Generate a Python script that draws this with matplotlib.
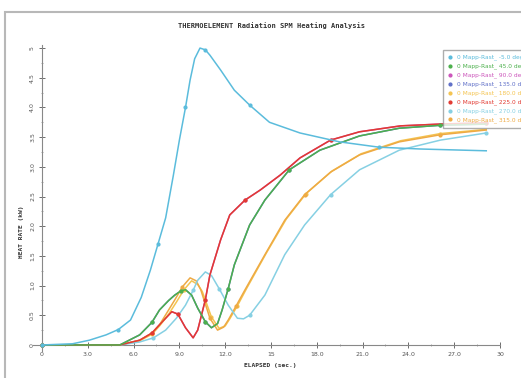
import numpy as np
import matplotlib
matplotlib.use('Agg')
import matplotlib.pyplot as plt
from matplotlib.patches import Rectangle

# series (x in sec., y in plotted units)
x_cyan = [0, 2.0, 3.1, 4.2, 5.0, 5.8, 6.5, 7.1, 7.6, 8.1, 8.6, 9.0, 9.4, 9.7, 10.0, 10.35,
          10.7, 11.0, 11.7, 12.6, 13.6, 14.9, 16.9, 19.5, 22.1, 24.8, 29.1]
y_cyan = [0, 0.02, 0.08, 0.17, 0.26, 0.42, 0.80, 1.26, 1.70, 2.14, 2.85, 3.45, 4.0, 4.46, 4.82, 5.0,
          4.97, 4.88, 4.63, 4.29, 4.04, 3.75, 3.57, 3.42, 3.33, 3.30, 3.27]

x_red = [0, 3.0, 5.1, 6.4, 7.2, 7.7, 8.1, 8.5, 8.9, 9.4, 9.9, 10.2, 10.7, 11.0, 11.7, 12.3,
         13.3, 14.3, 15.6, 16.9, 18.9, 20.8, 23.5, 26.1, 29.1]
y_red = [0, 0, 0, 0.08, 0.2, 0.34, 0.45, 0.56, 0.52, 0.29, 0.12, 0.25, 0.76, 1.18, 1.77, 2.19,
         2.44, 2.61, 2.86, 3.15, 3.45, 3.59, 3.69, 3.72, 3.74]

x_green = [0, 3.0, 5.1, 6.4, 7.2, 7.7, 8.3, 8.7, 9.1, 9.4, 9.8, 10.2, 10.7, 11.1, 11.5, 11.8,
           12.2, 12.6, 13.6, 14.6, 16.2, 18.2, 20.8, 23.4, 26.1, 29.1]
y_green = [0, 0, 0, 0.17, 0.38, 0.59, 0.75, 0.84, 0.91, 0.93, 0.84, 0.62, 0.39, 0.29, 0.36, 0.59,
           0.95, 1.35, 2.02, 2.44, 2.95, 3.28, 3.52, 3.65, 3.70, 3.72]

x_orange = [0, 3.0, 5.1, 6.4, 7.2, 7.7, 8.2, 8.7, 9.2, 9.7, 10.1, 10.4, 11.0, 11.5, 11.9, 12.2,
            12.7, 13.3, 14.6, 15.9, 17.2, 18.9, 20.8, 23.4, 26.1, 29.1]
y_orange = [0, 0, 0, 0.08, 0.2, 0.34, 0.55, 0.76, 0.98, 1.13, 1.08, 0.93, 0.45, 0.25, 0.30, 0.42,
            0.65, 0.93, 1.52, 2.10, 2.53, 2.91, 3.20, 3.42, 3.54, 3.62]

x_lcyan = [0, 3.0, 5.1, 6.4, 7.3, 8.1, 8.8, 9.4, 9.9, 10.2, 10.7, 11.1, 11.6, 12.2, 12.8, 13.2,
           13.6, 14.6, 15.9, 17.2, 18.9, 20.8, 23.4, 26.1, 29.1]
y_lcyan = [0, 0, 0, 0.05, 0.12, 0.25, 0.45, 0.67, 0.92, 1.09, 1.23, 1.17, 0.95, 0.67, 0.45, 0.44,
           0.50, 0.84, 1.52, 2.02, 2.53, 2.95, 3.28, 3.45, 3.57]

x_yellow = [0, 3.0, 5.1, 6.4, 7.2, 7.7, 8.3, 8.8, 9.3, 9.8, 10.2, 10.5, 11.1, 11.6, 12.0, 12.3,
            12.8, 13.4, 14.7, 16.0, 17.3, 19.0, 20.9, 23.5, 26.1, 29.1]
y_yellow = [0, 0, 0, 0.07, 0.18, 0.32, 0.52, 0.72, 0.93, 1.08, 1.02, 0.90, 0.47, 0.28, 0.32, 0.44,
            0.66, 0.95, 1.55, 2.12, 2.55, 2.93, 3.22, 3.44, 3.56, 3.63]

series = [
    ("0 Mapp-Rast_ -5.0 deg", x_cyan, y_cyan, "#5bbcdc"),
    ("0 Mapp-Rast_ 45.0 deg", x_green, y_green, "#4cb04c"),
    ("0 Mapp-Rast_ 90.0 deg", x_red, y_red, "#cc55bb"),
    ("0 Mapp-Rast_ 135.0 deg", x_green, y_green, "#6070c8"),
    ("0 Mapp-Rast_ 180.0 deg", x_yellow, y_yellow, "#f4c450"),
    ("0 Mapp-Rast_ 225.0 deg", x_red, y_red, "#e23a32"),
    ("0 Mapp-Rast_ 270.0 deg", x_lcyan, y_lcyan, "#86d0e3"),
    ("0 Mapp-Rast_ 315.0 deg", x_orange, y_orange, "#eeaa44"),
]
# hidden duplicates (magenta, blue) sit below the visible red / green curves
zorders = [3.5, 3.4, 2.1, 2.0, 2.2, 3.3, 3.2, 3.1]

xticks = [0, 3, 6, 9, 12, 15, 18, 21, 24, 27, 30]
xtick_labels = ["0", "3.0", "6.0", "9.0", "12.0", "15", "18.0", "21.0", "24.0", "27.0", "30"]
yticks = [0, 0.5, 1, 1.5, 2, 2.5, 3, 3.5, 4, 4.5, 5]
ytick_labels = ["0", "0.5", "1.0", "1.5", "2.0", "2.5", "3.0", "3.5", "4.0", "4.5", "5"]

fig = plt.figure(figsize=(5.21, 3.78), dpi=100)
fig.patches.append(Rectangle((5 / 521, -0.1), 1.2, 1 - 12 / 378 + 0.1,
                             transform=fig.transFigure, fill=False,
                             edgecolor="#b8b8b8", linewidth=1.5))

ax = fig.add_axes([0.063, 0.0717, 0.8967, 0.809])
for (name, xs, ys, col), z in zip(series, zorders):
    ax.plot(xs, ys, color=col, linewidth=1.1, marker="o", markersize=2.0,
            markevery=4, label=name, solid_joinstyle="round", zorder=z)

ax.set_xlim(-0.6, 30)
ax.set_ylim(-0.1, 5.05)
ax.spines["left"].set_position(("data", 0))
ax.spines["bottom"].set_position(("data", 0))
ax.spines["top"].set_visible(False)
ax.spines["right"].set_visible(False)
for s in ("left", "bottom"):
    ax.spines[s].set_color("#888888")
    ax.spines[s].set_linewidth(0.8)

ax.set_xticks(xticks)
ax.set_xticklabels(xtick_labels)
ax.set_yticks(yticks)
ax.set_yticklabels(ytick_labels, rotation=90, va="center")
ax.set_xticks(np.arange(1.5, 30, 3), minor=True)
ax.set_yticks(np.arange(0.25, 5, 0.5), minor=True)
ax.tick_params(direction="inout", length=4, width=0.6, labelsize=4.5,
               colors="#555555", pad=3)
ax.tick_params(which="minor", direction="inout", length=2, width=0.5, colors="#888888")

fig.text(272 / 521, 1 - 26 / 378, "THERMOELEMENT Radiation SPM Heating Analysis",
         ha="center", va="center", fontsize=5, family="DejaVu Sans Mono",
         fontweight="bold", color="#333333")
fig.text(270 / 521, 1 - 366 / 378, "ELAPSED (sec.)", ha="center", va="center",
         fontsize=4.5, family="DejaVu Sans Mono", fontweight="bold", color="#333333")
fig.text(22 / 521, 1 - 232 / 378, "HEAT RATE (kW)", ha="center", va="center",
         rotation=90, fontsize=4.5, family="DejaVu Sans Mono", fontweight="bold",
         color="#333333")

leg = fig.legend(loc="upper left", bbox_to_anchor=(440 / 521, 1 - 47 / 378),
                 fontsize=4.2, frameon=True, fancybox=False, edgecolor="#999999",
                 handlelength=0.8, labelspacing=0.55, borderpad=0.8,
                 handletextpad=0.8)
for txt, (_, _, _, col) in zip(leg.get_texts(), series):
    txt.set_color(col)
for h in leg.legend_handles:
    h.set_linestyle("none")

fig.savefig("out.png", dpi=100)
